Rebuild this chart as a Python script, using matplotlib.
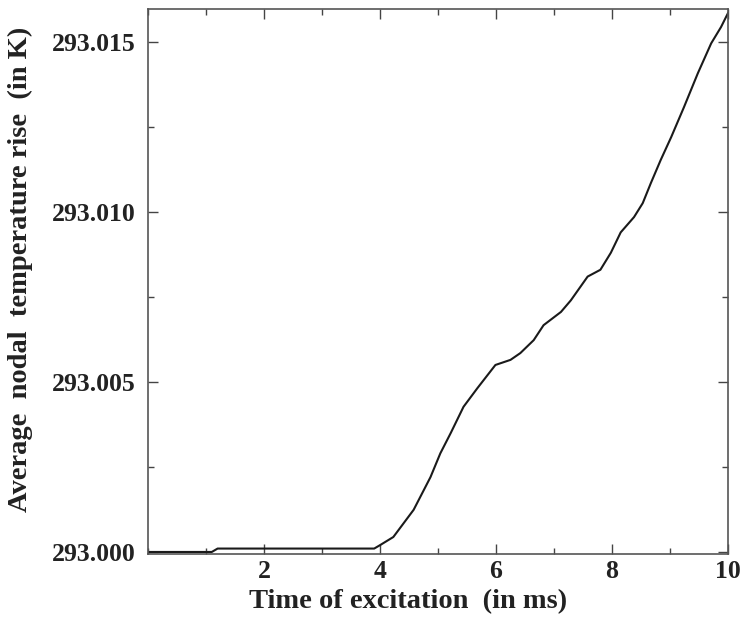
import matplotlib
matplotlib.use("Agg")
import matplotlib.pyplot as plt
from matplotlib.ticker import MultipleLocator, FormatStrFormatter

time_ms = [0.0, 1.1, 1.2, 3.9, 4.0, 4.23, 4.58, 4.87, 5.04, 5.22, 5.44, 5.68, 5.99,
           6.25, 6.42, 6.65, 6.82, 7.12, 7.29, 7.58, 7.8, 7.98, 8.15, 8.38, 8.53,
           8.67, 8.84, 9.02, 9.24, 9.48, 9.71, 9.88, 10.0]
temp_K = [293.0, 293.0, 293.0001, 293.0001, 293.0002, 293.00044, 293.00124, 293.0022,
          293.0029, 293.0035, 293.00427, 293.00482, 293.0055, 293.00565, 293.00585,
          293.00623, 293.00667, 293.00706, 293.0074, 293.0081, 293.0083, 293.0088,
          293.0094, 293.00985, 293.01026, 293.01085, 293.01153, 293.0122, 293.01308,
          293.01408, 293.01496, 293.01544, 293.01585]
x_ticks = [2, 4, 6, 8, 10]
y_ticks = [293.000, 293.005, 293.010, 293.015]

plt.rcParams['font.family'] = ['Liberation Serif', 'DejaVu Serif']

fig = plt.figure(figsize=(7.43, 6.29), dpi=100)
ax = fig.add_axes([148/743, 1-554/629, (728-148)/743, (554-9)/629])
ax.plot(time_ms, temp_K, color='#1a1a1a', lw=1.5)

ax.set_xlim(0, 10)
ax.set_ylim(292.99994, 293.01597)
ax.set_xticks(x_ticks)
ax.set_yticks(y_ticks)
ax.xaxis.set_minor_locator(MultipleLocator(1))
ax.yaxis.set_minor_locator(MultipleLocator(0.0025))
ax.yaxis.set_major_formatter(FormatStrFormatter('%.3f'))
ax.tick_params(which='both', direction='in', top=True, right=True, color='#444444')
ax.tick_params(which='major', length=7, width=1)
ax.tick_params(which='minor', length=4, width=1)
ax.tick_params(axis='y', labelsize=18.5, pad=9)
ax.tick_params(axis='x', labelsize=18.5, pad=4)
for lab in ax.get_xticklabels() + ax.get_yticklabels():
    lab.set_fontweight('bold')
    lab.set_color('#222222')
for s in ax.spines.values():
    s.set_color('#555555')
    s.set_linewidth(1.2)

ax.set_xlabel('Time of excitation  (in ms)', fontsize=20.5, fontweight='bold', color='#222222')
ax.set_ylabel('Average  nodal  temperature rise  (in K)', fontsize=20.5, fontweight='bold', color='#222222')
ax.xaxis.set_label_coords(0.448, -0.064)
ax.yaxis.set_label_coords(-0.198, 0.523)

fig.savefig('out.png', dpi=100)
